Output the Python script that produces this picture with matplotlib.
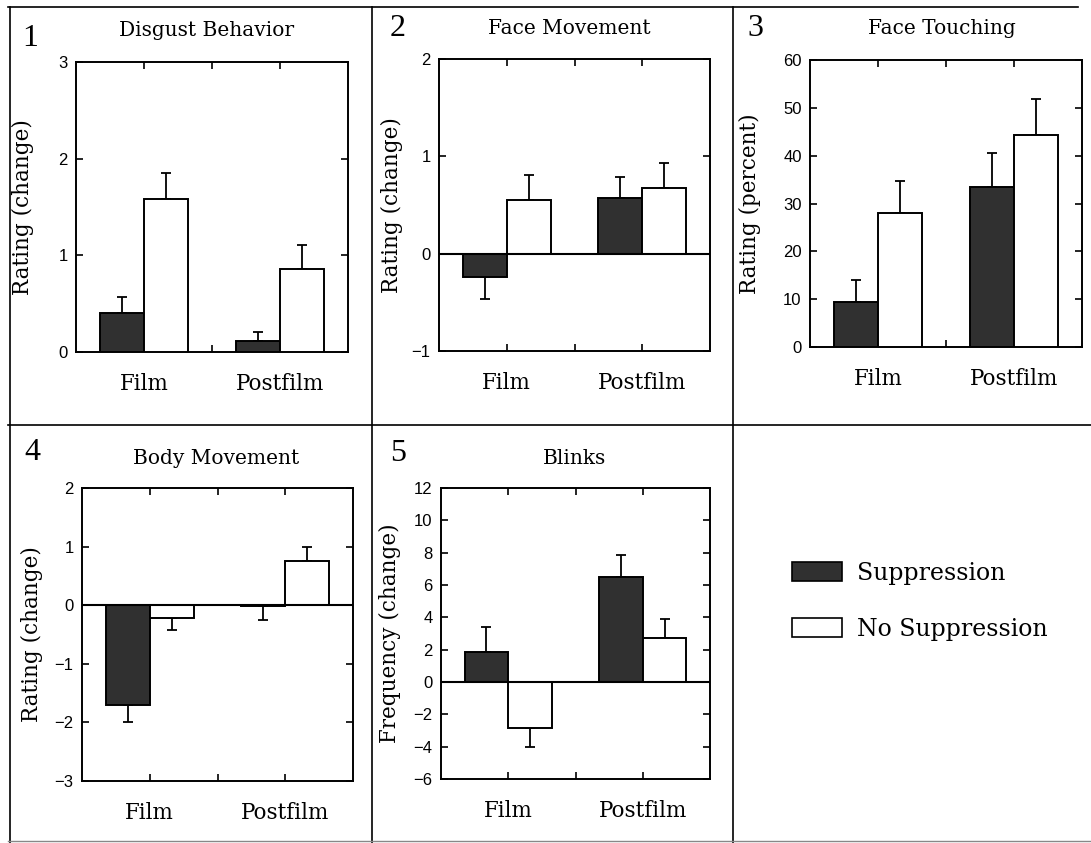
import matplotlib
matplotlib.use('Agg')
import matplotlib.pyplot as plt
from matplotlib.lines import Line2D
from matplotlib.patches import Patch

W, H = 1091, 843
fig = plt.figure(figsize=(W / 100, H / 100), dpi=100)

# ---------------- data ----------------
conditions = ['Film', 'Postfilm']
groups = ['Suppression', 'No Suppression']
panel_numbers = ['1', '2', '3', '4', '5']
titles = ['Disgust Behavior', 'Face Movement', 'Face Touching',
          'Body Movement', 'Blinks']
ylabels = ['Rating (change)', 'Rating (change)', 'Rating (percent)',
           'Rating (change)', 'Frequency (change)']

supp_means = [[0.40, 0.11], [-0.24, 0.57], [9.5, 33.4], [-1.70, -0.02], [1.84, 6.49]]
supp_err = [[0.17, 0.10], [0.23, 0.22], [4.6, 7.2], [0.30, 0.23], [1.56, 1.39]]
nosupp_means = [[1.58, 0.86], [0.55, 0.67], [28.0, 44.3], [-0.22, 0.75], [-2.85, 2.70]]
nosupp_err = [[0.27, 0.25], [0.26, 0.26], [6.7, 7.5], [0.21, 0.24], [1.19, 1.22]]

ylims = [(0, 3), (-1, 2), (0, 60), (-3, 2), (-6, 12)]
yticks = [[0, 1, 2, 3], [-1, 0, 1, 2], [0, 10, 20, 30, 40, 50, 60],
          [-3, -2, -1, 0, 1, 2], [-6, -4, -2, 0, 2, 4, 6, 8, 10, 12]]

# ---------------- layout (pixels) ----------------
# left, right, top, bottom of each axes
boxes = [(76, 348, 62, 352), (439, 710, 59, 351), (810, 1082, 60, 347),
         (82, 353, 488, 781), (441, 710, 488, 779)]
title_pos = [(207, 31), (569, 28), (942, 29), (216, 459), (574, 458)]
num_pos = [(30, 38), (398, 28), (755, 28), (32, 452), (398, 453)]
ylabel_x = [23, 392, 750, 32, 390]

SERIF = ['DejaVu Serif']
SANS = ['Liberation Sans', 'DejaVu Sans']
DARK = '#303030'

group_x = [1, 3]
bw = 0.65

for i in range(5):
    l, r, t, b = boxes[i]
    ax = fig.add_axes([l / W, 1 - b / H, (r - l) / W, (b - t) / H])
    ax.set_xlim(0, 4)
    ax.set_ylim(*ylims[i])

    xs_s = [g - bw / 2 for g in group_x]
    xs_n = [g + bw / 2 for g in group_x]
    ax.bar(xs_s, supp_means[i], width=bw, color=DARK, edgecolor='black',
           linewidth=1.4, zorder=3)
    ax.bar(xs_n, nosupp_means[i], width=bw, color='white', edgecolor='black',
           linewidth=1.4, zorder=3)

    for xs, m, e in ((xs_s, supp_means[i], supp_err[i]),
                     (xs_n, nosupp_means[i], nosupp_err[i])):
        lo = [ee if mm < 0 else 0 for mm, ee in zip(m, e)]
        hi = [0 if mm < 0 else ee for mm, ee in zip(m, e)]
        ax.errorbar(xs, m, yerr=[lo, hi], fmt='none', ecolor='black',
                    elinewidth=1.3, capsize=3.5, capthick=1.3, zorder=2)

    if ylims[i][0] < 0:
        ax.axhline(0, color='black', linewidth=1.5, zorder=4)

    for s in ax.spines.values():
        s.set_linewidth(1.4)

    ax.set_yticks(yticks[i])
    ax.set_yticklabels([str(v).replace('-', '\u2212') for v in yticks[i]],
                       family=SANS, fontsize=12)
    ax.set_xticks([1, 2, 3])
    ax.set_xticklabels([conditions[0], '', conditions[1]], family=SERIF,
                       fontsize=15.5)
    ax.tick_params(axis='both', direction='in', top=True, right=True,
                   length=5, width=1.2)
    ax.tick_params(axis='x', pad=15)
    ax.tick_params(axis='y', pad=6)

    ax.set_ylabel(ylabels[i], family=SERIF, fontsize=15.5, va='center')
    ax.yaxis.set_label_coords((ylabel_x[i] - l) / (r - l), 0.5)

    tx, ty = title_pos[i]
    fig.text(tx / W, 1 - ty / H, titles[i], family=SERIF, fontsize=14.5,
             ha='center', va='center')
    nx, ny = num_pos[i]
    fig.text(nx / W, 1 - ny / H, panel_numbers[i], family=['Liberation Serif'],
             fontsize=23, ha='center', va='center')

# ---------------- panel frame lines ----------------
def fline(x0, y0, x1, y1, color='black', lw=1.2):
    fig.add_artist(Line2D([x0 / W, x1 / W], [1 - y0 / H, 1 - y1 / H],
                          color=color, linewidth=lw))

fline(8, 7, 1078, 7)
fline(8, 425, 1091, 425)
fline(10, 7, 10, 843)
fline(372, 7, 372, 843)
fline(733, 7, 733, 843)
fline(8, 841, 1091, 841, color='#888888', lw=1.0)

# ---------------- legend ----------------
handles = [Patch(facecolor=DARK, edgecolor='black', linewidth=1.2),
           Patch(facecolor='white', edgecolor='black', linewidth=1.2)]
fig.legend(handles, groups, loc='upper left',
           bbox_to_anchor=(792 / W, 1 - 562 / H), frameon=False,
           prop={'family': SERIF, 'size': 17}, handlelength=2.1,
           handleheight=0.85, handletextpad=0.65, labelspacing=1.4,
           borderpad=0, borderaxespad=0)

fig.savefig('out.png', dpi=100)
